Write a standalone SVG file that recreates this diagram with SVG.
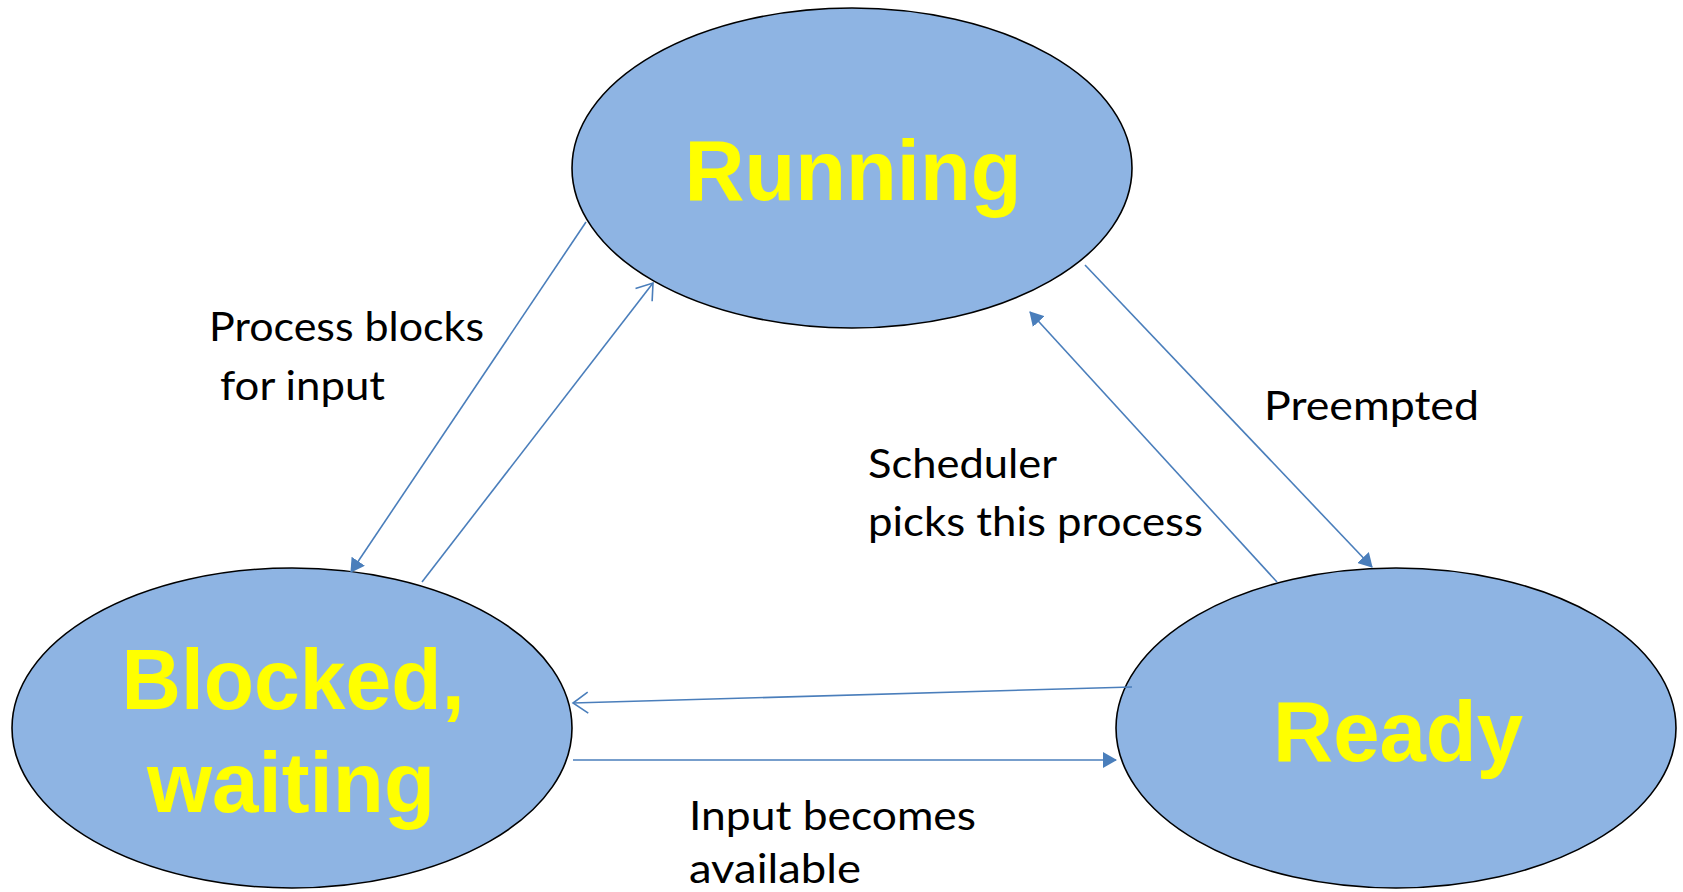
<svg xmlns="http://www.w3.org/2000/svg" width="1683" height="892" viewBox="0 0 1683 892">
  <style>
    .state { fill: #8eb4e3; stroke: #000; stroke-width: 1.6; }
    .stname { font-family: "Liberation Sans", Arial, sans-serif; font-weight: bold; font-size: 85px; fill: #ffff00; text-anchor: middle; }
    .lbl { font-family: Lato, "Open Sans", sans-serif; font-size: 40px; fill: #000; }
    .conn { stroke: #4a7ebb; stroke-width: 1.6; fill: none; }
  </style>
  <defs>
    <marker id="filled" markerUnits="userSpaceOnUse" viewBox="0 0 14 16" refX="13" refY="8" markerWidth="14" markerHeight="16" orient="auto">
      <path d="M0,0 L14,8 L0,16 z" fill="#4a7ebb"/>
    </marker>
    <marker id="open" markerUnits="userSpaceOnUse" viewBox="0 0 18 24" refX="16" refY="12" markerWidth="18" markerHeight="24" orient="auto">
      <path d="M1,1.5 L16,12 L1,22.5" fill="none" stroke="#4a7ebb" stroke-width="1.6"/>
    </marker>
  </defs>
  <rect width="1683" height="892" fill="#fff"/>

  <g id="running">
    <ellipse class="state" cx="852" cy="168" rx="280" ry="160"/>
    <text class="stname" x="853" y="200" textLength="337" lengthAdjust="spacingAndGlyphs">Running</text>
  </g>
  <g id="blocked">
    <ellipse class="state" cx="292" cy="728" rx="280" ry="160"/>
    <text class="stname" x="293" y="709" textLength="343" lengthAdjust="spacingAndGlyphs">Blocked,</text>
    <text class="stname" x="291" y="812" textLength="288" lengthAdjust="spacingAndGlyphs">waiting</text>
  </g>
  <g id="ready">
    <ellipse class="state" cx="1396" cy="728" rx="280" ry="160"/>
    <text class="stname" x="1398" y="761" textLength="250" lengthAdjust="spacingAndGlyphs">Ready</text>
  </g>

  <g id="connectors">
    <line class="conn" x1="586" y1="222" x2="351" y2="572" marker-end="url(#filled)"/>
    <line class="conn" x1="422" y1="582" x2="653" y2="283" marker-end="url(#open)"/>
    <line class="conn" x1="1085" y1="265" x2="1372" y2="567" marker-end="url(#filled)"/>
    <line class="conn" x1="1277" y1="582" x2="1030" y2="312" marker-end="url(#filled)"/>
    <line class="conn" x1="1132" y1="687" x2="573" y2="703" marker-end="url(#open)"/>
    <line class="conn" x1="573" y1="760" x2="1116" y2="760" marker-end="url(#filled)"/>
  </g>

  <g id="labels">
    <text class="lbl" x="209" y="341" textLength="275" lengthAdjust="spacingAndGlyphs">Process blocks</text>
    <text class="lbl" x="220" y="400" textLength="165" lengthAdjust="spacingAndGlyphs">for input</text>
    <text class="lbl" x="1264" y="420" textLength="215" lengthAdjust="spacingAndGlyphs">Preempted</text>
    <text class="lbl" x="868" y="478" textLength="189" lengthAdjust="spacingAndGlyphs">Scheduler</text>
    <text class="lbl" x="868" y="536" textLength="335" lengthAdjust="spacingAndGlyphs">picks this process</text>
    <text class="lbl" x="689" y="830" textLength="287" lengthAdjust="spacingAndGlyphs">Input becomes</text>
    <text class="lbl" x="689" y="883" textLength="172" lengthAdjust="spacingAndGlyphs">available</text>
  </g>
</svg>
